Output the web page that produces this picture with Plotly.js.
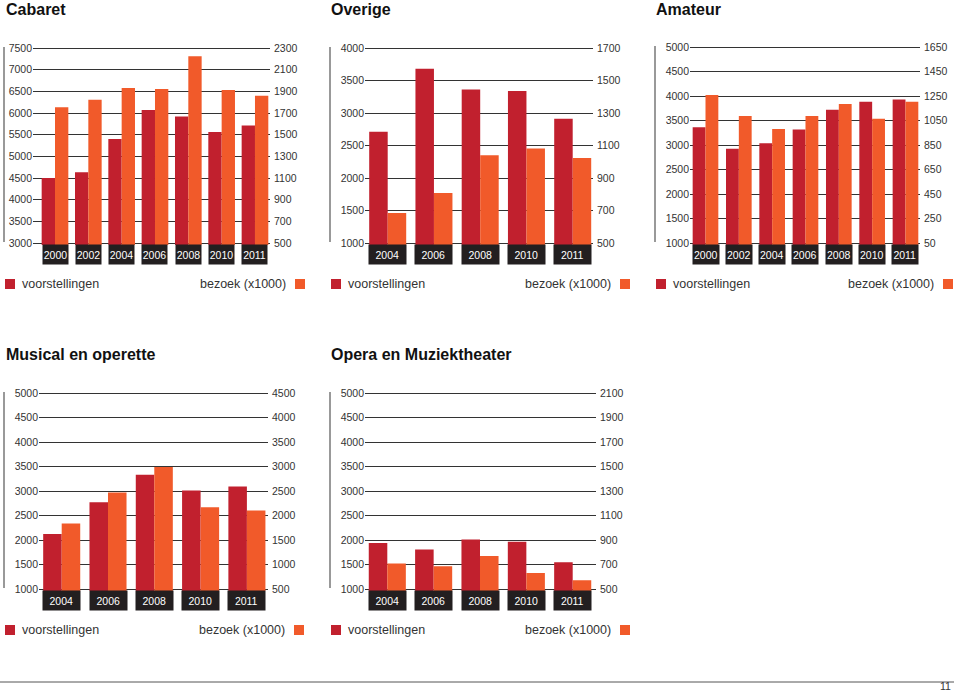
<!DOCTYPE html>
<html><head><meta charset="utf-8">
<script src="https://cdn.plot.ly/plotly-3.0.1.min.js"></script>
<style>html,body{margin:0;padding:0;background:#fff;}#chart{width:960px;height:693px;}</style>
</head><body><div id="chart"></div>
<script>
// ---- data ----
const cabaretYears = ['2000','2002','2004','2006','2008','2010','2011'];
const cabaretVoorstellingen = [4500, 4630, 5400, 6070, 5920, 5560, 5710];
const cabaretBezoek = [1752, 1823, 1931, 1922, 2223, 1912, 1860];

const overigeYears = ['2004','2006','2008','2010','2011'];
const overigeVoorstellingen = [2710, 3680, 3360, 3340, 2910];
const overigeBezoek = [685, 808, 1040, 1081, 1023];

const amateurYears = ['2000','2002','2004','2006','2008','2010','2011'];
const amateurVoorstellingen = [3360, 2925, 3035, 3315, 3720, 3885, 3930];
const amateurBezoek = [1258, 1087, 981, 1087, 1185, 1065, 1204];

const musicalYears = ['2004','2006','2008','2010','2011'];
const musicalVoorstellingen = [2125, 2770, 3330, 3010, 3090];
const musicalBezoek = [1837, 2470, 2988, 2170, 2102];

const operaYears = ['2004','2006','2008','2010','2011'];
const operaVoorstellingen = [1940, 1805, 2010, 1962, 1546];
const operaBezoek = [708, 686, 770, 631, 571];

const titles = ['Cabaret', 'Overige', 'Amateur', 'Musical en operette', 'Opera en Muziektheater'];
const leftRanges = [[3000, 7500], [1000, 4000], [1000, 5000], [1000, 5000], [1000, 5000]];
const rightRanges = [[500, 2300], [500, 1700], [50, 1650], [500, 4500], [500, 2100]];
const leftDtick = [500, 500, 500, 500, 500];
const rightDtick = [200, 200, 200, 500, 200];
const legendLeft = 'voorstellingen';
const legendRight = 'bezoek (x1000)';
const pageNumber = '11';

// ---- layout geometry (pixels) ----
const W = 960, H = 693;
const px = v => v / W;
const py = v => 1 - v / H;
const RED = '#c1202e', ORANGE = '#f15a2a', BOX = '#231f20', GRID = '#333333', TXT = '#333333';
const FONT = 'Liberation Sans, Arial, Helvetica, sans-serif';

const panels = [
  {years: cabaretYears, v: cabaretVoorstellingen, b: cabaretBezoek, x0: 33, x1: 270, y0: 48, y1: 243, c0: 55, sp: 33.33, bw: 0.4, box: 25, vline: 4, tx: 5, ty: 9, legY: 284, legL: 4, legR: 305},
  {years: overigeYears, v: overigeVoorstellingen, b: overigeBezoek, x0: 365, x1: 593, y0: 48, y1: 243, c0: 387.7, sp: 46.25, bw: 0.4, box: 36.5, vline: 330, tx: 330, ty: 9, legY: 284, legL: 330, legR: 630},
  {years: amateurYears, v: amateurVoorstellingen, b: amateurBezoek, x0: 690, x1: 920, y0: 47, y1: 243, c0: 705.5, sp: 33.33, bw: 0.385, box: 25.5, vline: 655, tx: 655, ty: 9, legY: 284, legL: 655, legR: 953},
  {years: musicalYears, v: musicalVoorstellingen, b: musicalBezoek, x0: 39, x1: 268, y0: 393, y1: 589, c0: 61.7, sp: 46.3, bw: 0.4, box: 36.5, vline: 4, tx: 5, ty: 354, legY: 630, legL: 4, legR: 304},
  {years: operaYears, v: operaVoorstellingen, b: operaBezoek, x0: 365, x1: 596, y0: 393, y1: 589, c0: 387.3, sp: 46.35, bw: 0.4, box: 36.5, vline: 330, tx: 330, ty: 354, legY: 630, legL: 330, legR: 630}
];

const data = [];
const layout = {
  width: W, height: H, margin: {l: 0, r: 0, t: 0, b: 0},
  paper_bgcolor: '#ffffff', plot_bgcolor: 'rgba(0,0,0,0)',
  showlegend: false, barmode: 'overlay',
  font: {family: FONT, color: TXT, size: 10},
  annotations: [], shapes: []
};

const PAD = 2; // px of padding above/below the extreme gridlines so they are drawn

panels.forEach((p, i) => {
  const xa = i === 0 ? 'x' : 'x' + (i + 1);
  const yl = 'y' + (i === 0 ? '' : (2 * i + 1));
  const yr = 'y' + (2 * i + 2);
  const xKey = 'xaxis' + (i === 0 ? '' : (i + 1));
  const ylKey = 'yaxis' + (i === 0 ? '' : (2 * i + 1));
  const yrKey = 'yaxis' + (2 * i + 2);

  data.push({type: 'bar', x: p.years, y: p.v, xaxis: xa, yaxis: yl, width: p.bw, offset: -p.bw,
    marker: {color: RED, line: {width: 0}}, name: legendLeft, hoverinfo: 'x+y'});
  data.push({type: 'bar', x: p.years, y: p.b, xaxis: xa, yaxis: yr, width: p.bw, offset: 0,
    marker: {color: ORANGE, line: {width: 0}}, name: legendRight, hoverinfo: 'x+y'});

  const hpx = p.y1 - p.y0;
  layout[xKey] = {
    type: 'category', domain: [px(p.x0), px(p.x1)], anchor: yl,
    range: [(p.x0 - p.c0) / p.sp, (p.x1 - p.c0) / p.sp],
    showgrid: false, zeroline: false, showline: false, showticklabels: false, ticks: '', fixedrange: true
  };
  const [lmin, lmax] = leftRanges[i];
  const [rmin, rmax] = rightRanges[i];
  const dl = (lmax - lmin) / hpx * PAD;
  const dr = (rmax - rmin) / hpx * PAD;
  layout[ylKey] = {
    domain: [py(p.y1 + PAD), py(p.y0 - PAD)], anchor: xa, range: [lmin - dl, lmax + dl], tick0: lmin, dtick: leftDtick[i],
    showgrid: true, gridcolor: GRID, gridwidth: 1, zeroline: false, showline: false, ticks: '',
    tickfont: {family: FONT, size: 10.5, color: TXT}, ticklabelstandoff: 0, fixedrange: true
  };
  layout[yrKey] = {
    overlaying: yl, side: 'right', anchor: xa, range: [rmin - dr, rmax + dr], tick0: rmin, dtick: rightDtick[i],
    showgrid: false, zeroline: false, showline: false, ticks: '',
    tickfont: {family: FONT, size: 10.5, color: TXT}, ticklabelstandoff: 3, fixedrange: true
  };

  // year boxes under the axis
  p.years.forEach((yr0, k) => {
    layout.annotations.push({
      xref: xa, yref: 'paper', x: k, y: py(p.y1 + 1), xanchor: 'center', yanchor: 'top',
      text: yr0, showarrow: false, bgcolor: BOX, width: p.box, height: 19, borderpad: 0,
      font: {family: FONT, size: 10.5, color: '#ffffff'}
    });
  });

  // vertical rule left of the labels
  layout.shapes.push({type: 'line', xref: 'paper', yref: 'paper', x0: px(p.vline), x1: px(p.vline),
    y0: py(p.y0 - 1), y1: py(p.y1 - 1), line: {color: '#555', width: 1.2}});

  // title
  layout.annotations.push({xref: 'paper', yref: 'paper', x: px(p.tx - 1), y: py(p.ty), xanchor: 'left', yanchor: 'middle',
    text: titles[i], showarrow: false, font: {family: FONT, size: 16, weight: 700, color: '#111'}});

  // legend
  layout.shapes.push({type: 'rect', xref: 'paper', yref: 'paper', x0: px(p.legL + 1), x1: px(p.legL + 11),
    y0: py(p.legY + 5), y1: py(p.legY - 5), fillcolor: RED, line: {width: 0}});
  layout.annotations.push({xref: 'paper', yref: 'paper', x: px(p.legL + 16), y: py(p.legY), xanchor: 'left', yanchor: 'middle',
    text: legendLeft, showarrow: false, font: {family: FONT, size: 12.5, color: TXT}});
  layout.shapes.push({type: 'rect', xref: 'paper', yref: 'paper', x0: px(p.legR - 10), x1: px(p.legR),
    y0: py(p.legY + 5), y1: py(p.legY - 5), fillcolor: ORANGE, line: {width: 0}});
  layout.annotations.push({xref: 'paper', yref: 'paper', x: px(p.legR - 17), y: py(p.legY), xanchor: 'right', yanchor: 'middle',
    text: legendRight, showarrow: false, font: {family: FONT, size: 12.5, color: TXT}});
});

// footer
layout.shapes.push({type: 'line', xref: 'paper', yref: 'paper', x0: px(0), x1: px(954), y0: py(682), y1: py(682),
  line: {color: '#555', width: 1}});
layout.annotations.push({xref: 'paper', yref: 'paper', x: px(952), y: py(693), xanchor: 'right', yanchor: 'bottom',
  text: pageNumber, showarrow: false, borderpad: 0, font: {family: FONT, size: 10.5, color: TXT}});

Plotly.newPlot('chart', data, layout, {displayModeBar: false, staticPlot: true});
</script>
</body></html>
